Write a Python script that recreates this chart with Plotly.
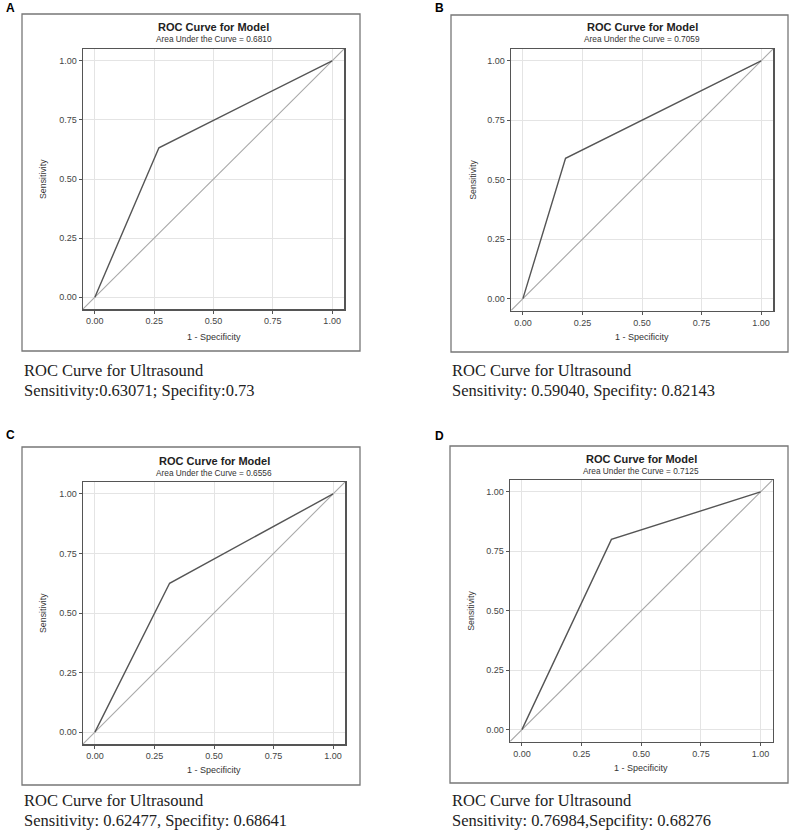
import plotly.graph_objects as go

W, H = 789, 834

# ---- data ----
panel_labels = ["A", "B", "C", "D"]
auc_values = ["0.6810", "0.7059", "0.6556", "0.7125"]
knee_fpr = [0.27, 0.179, 0.3136, 0.375]
knee_sens = [0.632, 0.5904, 0.6248, 0.80]
caption_line1 = ["ROC Curve for Ultrasound"] * 4
caption_line2 = [
    "Sensitivity:0.63071; Specifity:0.73",
    "Sensitivity: 0.59040, Specifity: 0.82143",
    "Sensitivity: 0.62477, Specifity: 0.68641",
    "Sensitivity: 0.76984,Sepcifity: 0.68276",
]
tick_vals = [0, 0.25, 0.5, 0.75, 1.0]
tick_text = ["0.00", "0.25", "0.50", "0.75", "1.00"]
axis_range = [-0.05, 1.05]

# ---- layout geometry (pixels) ----
plot_boxes = [  # x0, x1, y0(top), y1(bottom)
    (83, 344, 49, 309),
    (511, 773, 49, 310.5),
    (83, 345, 482, 744),
    (510, 772.5, 480, 741.5),
]
frames = [
    (22, 360, 14, 351),
    (451, 788, 15, 352),
    (22, 360, 447, 785),
    (450, 788, 446, 783),
]
title_y = [27, 27, 461, 459]
sub_y = [38.5, 38.5, 472.5, 470.5]
xlab_y = [337, 337, 770, 768]
ylab_x = [43, 473, 43, 471]
letter_pos = [(4, 8), (433, 8), (4, 435), (433, 436)]
cap_x = [22, 450, 22, 450]
cap_y = [(370, 390), (370, 390), (800, 820), (800, 820)]


def px(x):
    return x / W


def py(y):
    return 1 - y / H


fig = go.Figure()
shapes = []
annotations = []
SANS = "Liberation Sans, Arial"
SERIF = "Liberation Serif, Times New Roman"

for i in range(4):
    ax = "" if i == 0 else str(i + 1)
    x0, x1, y0, y1 = plot_boxes[i]
    xa = dict(
        domain=[px(x0), px(x1)], range=axis_range, anchor="y" + ax,
        tickvals=tick_vals, ticktext=tick_text, ticks="outside", ticklen=3,
        tickcolor="#555", tickwidth=1, showline=True, linecolor="#555",
        linewidth=1.5, mirror=True, showgrid=True, gridcolor="#e4e4e4",
        gridwidth=1, zeroline=False, fixedrange=True,
        tickfont=dict(family=SANS, size=9, color="#444"),
    )
    ya = dict(xa)
    ya.update(domain=[py(y1), py(y0)], anchor="x" + ax)
    fig.update_layout(**{"xaxis" + ax: xa, "yaxis" + ax: ya})

    # diagonal reference
    fig.add_trace(go.Scatter(
        x=axis_range, y=axis_range, mode="lines",
        line=dict(color="#a8a8a8", width=1.1), xaxis="x" + ax, yaxis="y" + ax,
        showlegend=False, hoverinfo="skip"))
    # ROC curve
    fig.add_trace(go.Scatter(
        x=[0, knee_fpr[i], 1], y=[0, knee_sens[i], 1], mode="lines",
        line=dict(color="#555555", width=1.4), xaxis="x" + ax, yaxis="y" + ax,
        showlegend=False))

    fx0, fx1, fy0, fy1 = frames[i]
    shapes.append(dict(type="rect", xref="paper", yref="paper",
                       x0=px(fx0), x1=px(fx1), y0=py(fy1), y1=py(fy0),
                       line=dict(color="#777", width=1.3)))

    cx = (x0 + x1) / 2
    annotations.append(dict(
        x=px(cx), y=py(title_y[i]), xref="paper", yref="paper",
        text="<b>ROC Curve for Model</b>", showarrow=False,
        xanchor="center", yanchor="middle",
        font=dict(family=SANS, size=11, color="#222")))
    annotations.append(dict(
        x=px(cx), y=py(sub_y[i]), xref="paper", yref="paper",
        text="Area Under the Curve = " + auc_values[i], showarrow=False,
        xanchor="center", yanchor="middle",
        font=dict(family=SANS, size=8.3, color="#333")))
    annotations.append(dict(
        x=px(cx), y=py(xlab_y[i]), xref="paper", yref="paper",
        text="1 - Specificity", showarrow=False,
        xanchor="center", yanchor="middle",
        font=dict(family=SANS, size=9, color="#333")))
    annotations.append(dict(
        x=px(ylab_x[i]), y=py((y0 + y1) / 2), xref="paper", yref="paper",
        text="Sensitivity", showarrow=False, textangle=-90,
        xanchor="center", yanchor="middle",
        font=dict(family=SANS, size=8.8, color="#333")))
    lx, ly = letter_pos[i]
    annotations.append(dict(
        x=px(lx), y=py(ly), xref="paper", yref="paper",
        text="<b>" + panel_labels[i] + "</b>", showarrow=False,
        xanchor="left", yanchor="middle",
        font=dict(family=SANS, size=12, color="#000")))
    annotations.append(dict(
        x=px(cap_x[i]), y=py(cap_y[i][0]), xref="paper", yref="paper",
        text=caption_line1[i], showarrow=False,
        xanchor="left", yanchor="middle",
        font=dict(family=SERIF, size=16.5, color="#222")))
    annotations.append(dict(
        x=px(cap_x[i]), y=py(cap_y[i][1]), xref="paper", yref="paper",
        text=caption_line2[i], showarrow=False,
        xanchor="left", yanchor="middle",
        font=dict(family=SERIF, size=16.5, color="#222")))

fig.update_layout(
    width=W, height=H, margin=dict(l=0, r=0, t=0, b=0),
    paper_bgcolor="white", plot_bgcolor="white",
    shapes=shapes, annotations=annotations, showlegend=False,
    hovermode=False,
)

fig.write_html(
    "out.html",
    config={"displayModeBar": False, "staticPlot": True},
    post_script="document.body.style.margin='0';document.body.style.overflow='hidden';",
)
